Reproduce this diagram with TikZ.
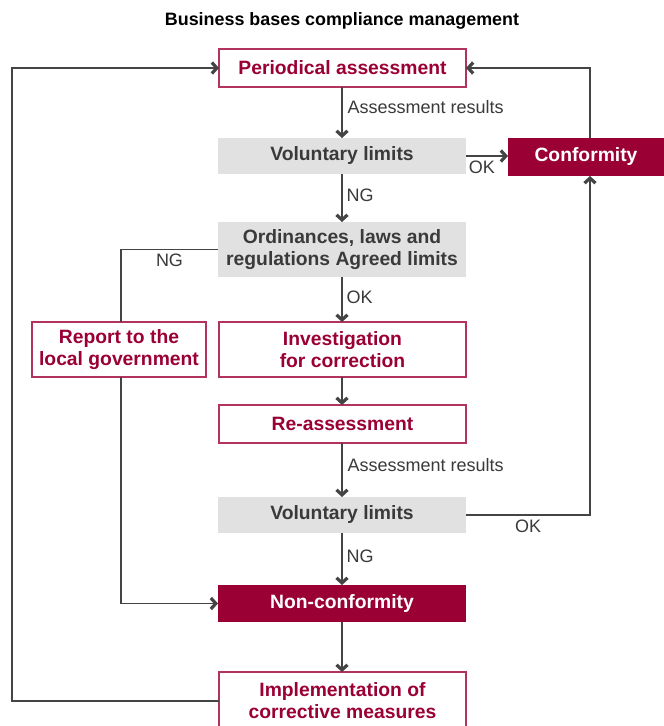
\documentclass[tikz,border=0pt]{standalone}
\usepackage{fontspec}
\setmainfont{Liberation Sans}
\usetikzlibrary{arrows.meta}
\definecolor{crim}{RGB}{155,0,52}
\definecolor{crimline}{RGB}{178,52,92}
\definecolor{boxgray}{RGB}{225,225,225}
\definecolor{txtgray}{RGB}{58,58,58}
\definecolor{linegray}{RGB}{68,68,68}
\tikzset{
  base/.style={inner sep=0pt, outer sep=0pt, align=center, font=\bfseries\fontsize{19.3}{22}\selectfont},
  whitebox/.style={base, draw=crimline, line width=1.2pt, fill=white, text=crim},
  redbox/.style={base, fill=crim, text=white},
  graybox/.style={base, fill=boxgray, text=txtgray},
  conn/.style={draw=linegray, line width=1.3pt},
  arr/.style={conn, -{Straight Barb[length=5pt,width=11pt,line width=3.2pt]}},
  lbl/.style={font=\fontsize{18}{20}\selectfont, text=txtgray, inner sep=0pt}
}
\begin{document}
\begin{tikzpicture}[x=1pt,y=-1pt]
\useasboundingbox (0,0) rectangle (664,726);
\clip (0,0) rectangle (664,726);
\fill[white] (0,0) rectangle (664,726);
\node[font=\bfseries\fontsize{17.9}{20}\selectfont, inner sep=0pt] (title) at (342,21) {Business bases compliance management};

\node[whitebox, minimum width=247pt, minimum height=38pt] (per) at (342.5,68) {Periodical assessment};
\node[graybox, minimum width=248pt, minimum height=36pt] (vol1) at (342,156) {Voluntary limits};
\node[redbox, minimum width=156pt, minimum height=38pt] (conf) at (586,157) {Conformity};
\node[graybox, minimum width=248pt, minimum height=55pt] (ord) at (342,249.5) {Ordinances, laws and\\regulations Agreed limits};
\node[whitebox, minimum width=174pt, minimum height=55pt] (rep) at (119,349.5) {Report to the\\local government};
\node[whitebox, minimum width=247pt, minimum height=55pt] (inv) at (342.5,349.5) {Investigation\\for correction};
\node[whitebox, minimum width=247pt, minimum height=38pt] (reas) at (342.5,424) {Re-assessment};
\node[graybox, minimum width=248pt, minimum height=36pt] (vol2) at (342,515) {Voluntary limits};
\node[redbox, minimum width=248pt, minimum height=37pt] (non) at (342,603.5) {Non-conformity};
\node[whitebox, minimum width=247pt, minimum height=58pt] (impl) at (342.5,701) {Implementation of\\corrective measures};

\coordinate (L) at (12,0);

\draw[arr] (per.south -| vol1.north) -- node[lbl, anchor=west, xshift=5pt, pos=0.4] {Assessment results} (vol1.north);
\draw[arr] (vol1.east) -- node[lbl, anchor=north, pos=0.38, yshift=-4pt] {OK} (vol1.east -| conf.west);
\draw[arr] ([xshift=4pt]conf.north) |- (per.east);
\draw[arr] (vol1.south) -- node[lbl, anchor=west, xshift=4pt, pos=0.45] {NG} (ord.north);
\draw[conn] (ord.west) -| node[lbl, pos=0.25, anchor=north, yshift=-4pt] {NG} ([xshift=2pt]rep.north);
\draw[arr] (ord.south) -- node[lbl, anchor=west, xshift=4pt, pos=0.45] {OK} (ord.south |- inv.north);
\draw[arr] (inv.south -| ord.south) -- (ord.south |- reas.north);
\draw[arr] (reas.south -| vol2.north) -- node[lbl, anchor=west, xshift=5pt, pos=0.4] {Assessment results} (vol2.north);
\draw[arr] (vol2.east) -| node[lbl, pos=0.25, anchor=north, yshift=-4pt] {OK} ([xshift=4pt]conf.south);
\draw[arr] (vol2.south) -- node[lbl, anchor=west, xshift=4pt, pos=0.45] {NG} (non.north);
\draw[arr] ([xshift=2pt]rep.south) |- (non.west);
\draw[arr] (non.south) -- (non.south |- impl.north);
\draw[arr] (impl.west) -- (impl.west -| L) |- (per.west);
\end{tikzpicture}
\end{document}
